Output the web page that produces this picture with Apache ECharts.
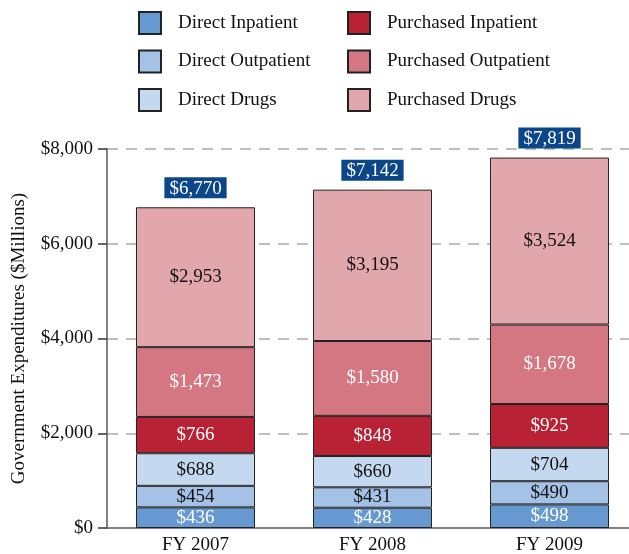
<!DOCTYPE html>
<html>
<head>
<meta charset="utf-8">
<script src="https://cdn.jsdelivr.net/npm/echarts@6/dist/echarts.min.js"></script>
<style>
  html, body { margin: 0; padding: 0; background: #fff; }
  #chart { width: 629px; height: 554px; }
</style>
</head>
<body>
<div id="chart"></div>
<script>
// data
var years = ['FY 2007', 'FY 2008', 'FY 2009'];
var directInpatient = [436, 428, 498];
var directOutpatient = [454, 431, 490];
var directDrugs = [688, 660, 704];
var purchasedInpatient = [766, 848, 925];
var purchasedOutpatient = [1473, 1580, 1678];
var purchasedDrugs = [2953, 3195, 3524];
var totals = [6770, 7142, 7819];
var yTicks = [0, 2000, 4000, 6000, 8000];

var font = 'Liberation Serif';
var fs = 19;

function money(v) {
  return '$' + v.toLocaleString('en-US');
}

function stackSeries(name, data, color, textColor) {
  return {
    name: name,
    type: 'bar',
    stack: 'total',
    barWidth: 119,
    data: data,
    itemStyle: { color: color, borderColor: '#222', borderWidth: 1 },
    label: {
      show: true,
      position: 'inside',
      color: textColor,
      fontFamily: font,
      fontSize: fs,
      formatter: function (p) { return money(p.value); }
    },
    emphasis: { disabled: true }
  };
}

function legendCol(names, left) {
  return {
    data: names,
    orient: 'vertical',
    left: left,
    top: 6,
    icon: 'rect',
    itemWidth: 22,
    itemHeight: 22,
    itemGap: 14.5,
    textStyle: { fontFamily: font, fontSize: fs, color: '#111', padding: [0, 0, 0, 12] },
    selectedMode: false
  };
}

var chart = echarts.init(document.getElementById('chart'));

chart.setOption({
  animation: false,
  textStyle: { fontFamily: font },
  legend: [
    legendCol(['Direct Inpatient', 'Direct Outpatient', 'Direct Drugs'], 133),
    legendCol(['Purchased Inpatient', 'Purchased Outpatient', 'Purchased Drugs'], 342)
  ],
  grid: { left: 107, right: -9, top: 149, bottom: 26, outerBoundsMode: 'none' },
  xAxis: {
    type: 'category',
    data: years,
    axisLine: { lineStyle: { color: '#808080', width: 2 } },
    axisTick: { show: false },
    axisLabel: { color: '#111', fontFamily: font, fontSize: fs, margin: 8 }
  },
  yAxis: {
    type: 'value',
    min: yTicks[0],
    max: yTicks[yTicks.length - 1],
    interval: 2000,
    name: 'Government Expenditures ($Millions)',
    nameLocation: 'middle',
    nameGap: 78,
    nameTextStyle: { color: '#111', fontFamily: font, fontSize: fs },
    axisLine: { show: true, lineStyle: { color: '#808080', width: 2 } },
    axisTick: { show: true, length: 9, lineStyle: { color: '#333', width: 1.5 } },
    axisLabel: { color: '#111', fontFamily: font, fontSize: fs, margin: 14, formatter: money },
    splitLine: { show: true, lineStyle: { color: '#aaa', type: [11, 8], width: 1.5 } }
  },
  series: [
    stackSeries('Direct Inpatient', directInpatient, '#6699d0', '#fff'),
    stackSeries('Direct Outpatient', directOutpatient, '#a3c2e6', '#111'),
    stackSeries('Direct Drugs', directDrugs, '#c4d9ef', '#111'),
    stackSeries('Purchased Inpatient', purchasedInpatient, '#b82234', '#fff'),
    stackSeries('Purchased Outpatient', purchasedOutpatient, '#d47782', '#fff'),
    stackSeries('Purchased Drugs', purchasedDrugs, '#e2a7ad', '#111'),
    {
      name: 'Total',
      type: 'scatter',
      data: totals,
      symbolSize: 0,
      silent: true,
      itemStyle: { opacity: 1 },
      label: {
        show: true,
        position: 'top',
        distance: 9,
        color: '#fff',
        backgroundColor: '#0b4689',
        padding: [2, 5, 0, 5],
        fontFamily: font,
        fontSize: fs,
        formatter: function (p) { return money(p.value); }
      }
    }
  ]
});
</script>
</body>
</html>
